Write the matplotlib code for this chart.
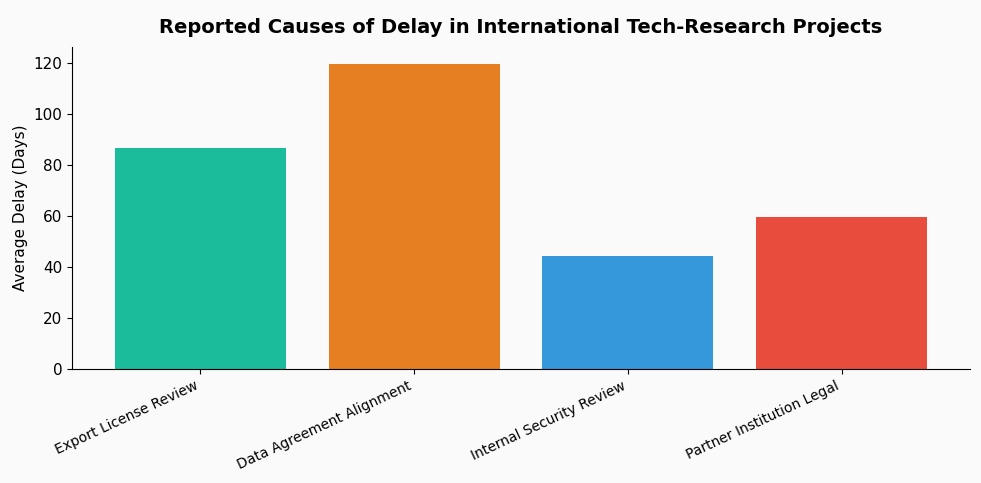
import matplotlib
matplotlib.use('Agg')
import matplotlib.pyplot as plt

causes = ['Export License Review', 'Data Agreement Alignment',
          'Internal Security Review', 'Partner Institution Legal']
delays = [86.5, 119.5, 44.5, 59.8]
colors = ['#1abc9c', '#e67e22', '#3498db', '#e74c3c']

fig = plt.figure(figsize=(9.81, 4.83), dpi=100, facecolor='#fafafa')
ax = fig.add_axes([72 / 981, 1 - 369 / 483, 898 / 981, 322 / 483])
ax.set_facecolor('#fafafa')

ax.bar(causes, delays, color=colors, width=0.8)
ax.set_ylim(0, 126.3)
ax.set_xlim(-0.6, 3.6)
ax.set_ylabel('Average Delay (Days)', fontsize=11)
ax.set_title('Reported Causes of Delay in International Tech-Research Projects',
             fontsize=14, fontweight='bold', pad=10)
ax.tick_params(axis='y', labelsize=11)
plt.setp(ax.get_xticklabels(), rotation=25, ha='right', fontsize=10)
ax.spines['top'].set_visible(False)
ax.spines['right'].set_visible(False)

fig.savefig('out.png', dpi=100, facecolor=fig.get_facecolor())
